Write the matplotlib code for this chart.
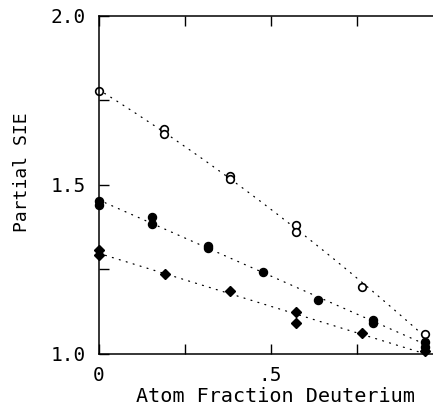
import numpy as np
import matplotlib
matplotlib.use('Agg')
import matplotlib.pyplot as plt

# 读出的数据点
open_x = [0, 0.189, 0.189, 0.381, 0.381, 0.573, 0.573, 0.765, 0.95]
open_y = [1.778, 1.667, 1.652, 1.526, 1.519, 1.382, 1.361, 1.199, 1.058]

fill_x = [0, 0, 0.156, 0.156, 0.319, 0.319, 0.478, 0.638, 0.797, 0.797, 0.95, 0.95]
fill_y = [1.452, 1.441, 1.406, 1.386, 1.320, 1.313, 1.242, 1.160, 1.101, 1.092, 1.036, 1.022]

dia_x = [0, 0, 0.192, 0.382, 0.573, 0.573, 0.765, 0.95]
dia_y = [1.308, 1.293, 1.236, 1.186, 1.125, 1.091, 1.061, 1.008]

x_ticks = [0, 0.25, 0.5, 0.75, 1.0]
x_ticklabels = ['0', '', '.5', '', '']
y_ticks = [1.0, 1.25, 1.5, 1.75, 2.0]
y_ticklabels = ['1.0', '', '1.5', '', '2.0']

plt.rcParams['font.family'] = ['DejaVu Sans Mono']

fig = plt.figure(figsize=(4.33, 4.04), dpi=100)
ax = fig.add_axes([0.2275, 0.1238, 0.7945, 0.8366])

# 拟合曲线（点线）
for xs, ys, deg in [(open_x, open_y, 2), (fill_x, fill_y, 1), (dia_x, dia_y, 1)]:
    coef = np.polyfit(xs, ys, deg)
    xx = np.linspace(0, max(xs), 200)
    ax.plot(xx, np.polyval(coef, xx), color='black', linewidth=0.9,
            linestyle=(0, (0.8, 5)), dash_capstyle='round')

ax.plot(open_x, open_y, 'o', markersize=5.5, markerfacecolor='white',
        markeredgecolor='black', markeredgewidth=1.2, clip_on=False)
ax.plot(fill_x, fill_y, 'o', markersize=5.8, color='black', clip_on=False)
ax.plot(dia_x, dia_y, 'D', markersize=4.6, color='black', clip_on=False)

ax.set_xlim(0, 1.0)
ax.set_ylim(1.0, 2.0)
ax.set_xticks(x_ticks)
ax.set_xticklabels(x_ticklabels)
ax.set_yticks(y_ticks)
ax.set_yticklabels(y_ticklabels)
ax.tick_params(direction='in', length=7, width=1.0, top=True, right=True,
               labelsize=14, pad=9)
for s in ax.spines.values():
    s.set_linewidth(1.1)

fig.text(275 / 433, 1 - 396 / 404, 'Atom Fraction Deuterium', ha='center',
         va='center', fontsize=14.5)
fig.text(22 / 433, 1 - 172 / 404, 'Partial SIE', ha='center', va='center',
         rotation=90, fontsize=13)

fig.savefig('out.png', dpi=100)
